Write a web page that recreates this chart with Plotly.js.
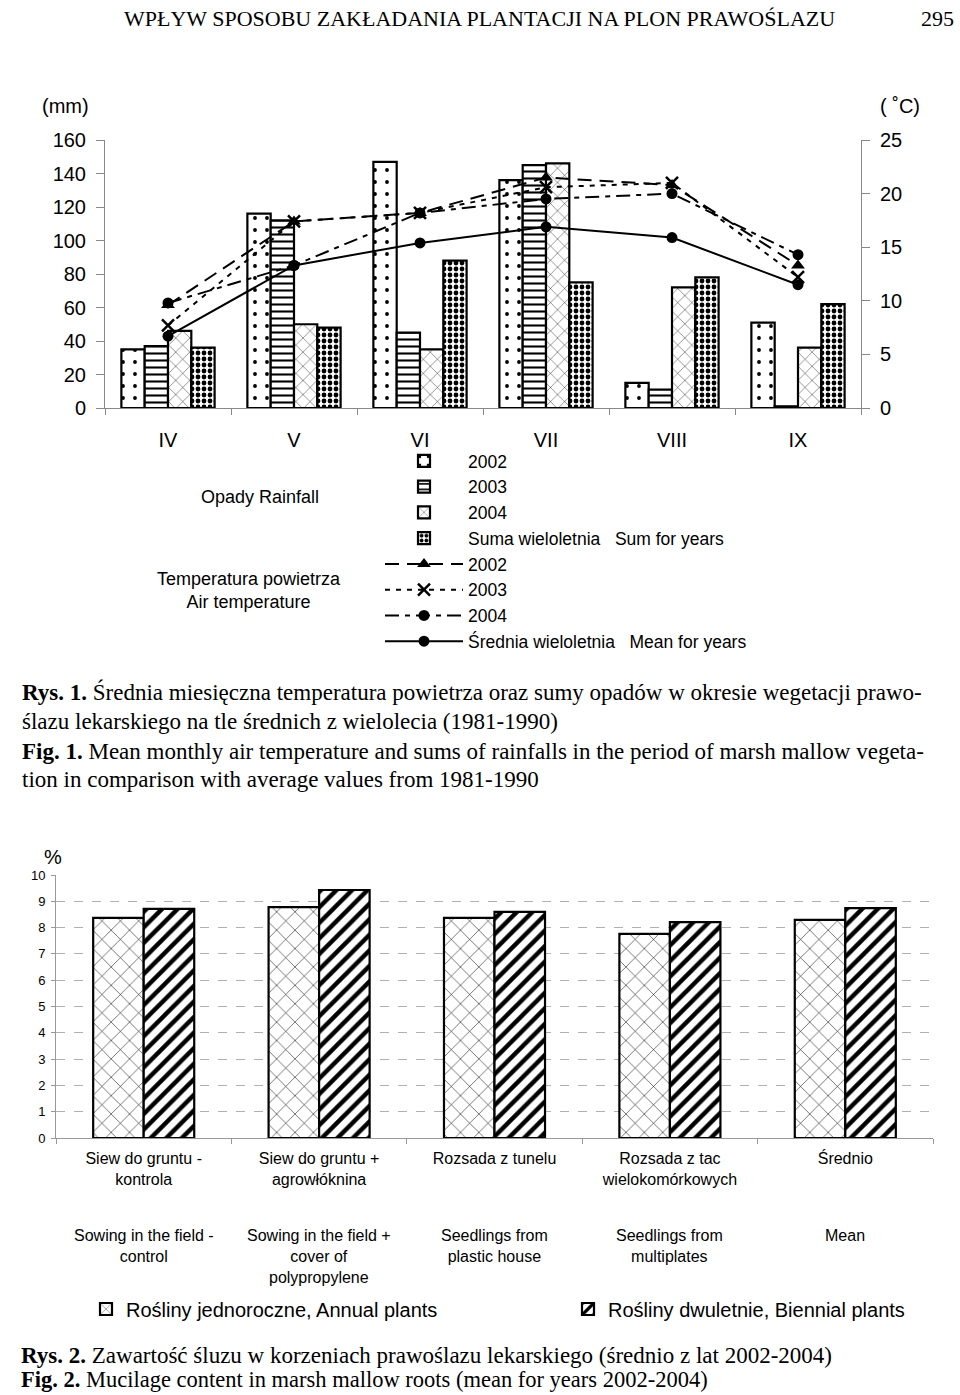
<!DOCTYPE html>
<html><head><meta charset="utf-8">
<script src="https://cdn.plot.ly/plotly-3.0.1.min.js"></script>
<style>body{margin:0;background:#fff}#chart{width:960px;height:1395px}</style>
</head><body><div id="chart"></div>
<script>
// ---- Figure 1 data ----
const months = ['IV', 'V', 'VI', 'VII', 'VIII', 'IX'];
const rain2002 = [35, 116, 147, 136, 15, 51];
const rain2003 = [37, 112, 45, 145, 11, 1];
const rain2004 = [46, 50, 35, 146, 72, 36];
const rainSum = [36, 48, 88, 75, 78, 62];
const temp2002 = [9.6, 17.4, 18.2, 21.5, 20.8, 13.3];
const temp2003 = [7.7, 17.4, 18.2, 20.6, 21.0, 12.2];
const temp2004 = [9.8, 13.3, 18.2, 19.5, 20.0, 14.3];
const tempMean = [6.7, 13.3, 15.4, 16.9, 15.9, 11.5];

// ---- Figure 2 data ----
const methodsPL = ['Siew do gruntu -<br>kontrola', 'Siew do gruntu +<br>agrowłóknina', 'Rozsada z tunelu', 'Rozsada z tac<br>wielokomórkowych', 'Średnio'];
const methodsEN = ['Sowing in the field -<br>control', 'Sowing in the field +<br>cover of<br>polypropylene', 'Seedlings from<br>plastic house', 'Seedlings from<br>multiplates', 'Mean'];
const mucAnnual = [8.37, 8.78, 8.37, 7.76, 8.29];
const mucBiennial = [8.71, 9.43, 8.60, 8.21, 8.74];

const W = 960, H = 1395;
const fx = p => p / W;
const fy = p => 1 - p / H;
const SANS = 'Liberation Sans, Arial, sans-serif';
const SERIF = 'Liberation Serif, Times New Roman, serif';

const barLine = {color: '#000', width: 2.2};
const bw = 0.185;
function rainBar(name, y, off, pattern) {
  return {type: 'bar', x: months, y: y, name: name, xaxis: 'x', yaxis: 'y',
    width: bw, offset: off, marker: {color: '#fff', line: barLine, pattern: pattern}, legend: 'legend'};
}
function tempLine(name, y, dash, marker) {
  return {type: 'scatter', mode: 'lines+markers', x: months, y: y, name: name, xaxis: 'x', yaxis: 'y2',
    line: {color: '#000', width: 2, dash: dash}, marker: marker, legend: 'legend'};
}
const NB = '\u00a0';
const traces = [
  rainBar('2002', rain2002, -2 * bw, {shape: '.', fgcolor: '#000', bgcolor: '#fff', size: 12, solidity: 0.08}),
  rainBar('2003', rain2003, -bw, {shape: '-', fgcolor: '#000', bgcolor: '#fff', size: 7, solidity: 0.3}),
  rainBar('2004', rain2004, 0, {shape: 'x', fgcolor: '#000', bgcolor: '#fff', size: 10, solidity: 0.08}),
  rainBar('Suma wieloletnia' + NB + NB + NB + 'Sum for years', rainSum, bw, {shape: '.', fgcolor: '#000', bgcolor: '#fff', size: 6, solidity: 0.5}),
  tempLine('2002', temp2002, '14px,8px', {symbol: 'triangle-up', size: 12, color: '#000'}),
  tempLine('2003', temp2003, '5px,6px', {symbol: 'x-thin-open', size: 12, color: '#000', line: {color: '#000', width: 2.5}}),
  tempLine('2004', temp2004, '14px,6px,5px,6px', {symbol: 'circle', size: 11, color: '#000'}),
  tempLine('Średnia wieloletnia' + NB + NB + NB + 'Mean for years', tempMean, 'solid', {symbol: 'circle', size: 11, color: '#000'}),
  {type: 'bar', x: methodsPL, y: mucAnnual, name: 'Rośliny jednoroczne, Annual plants', xaxis: 'x3', yaxis: 'y3',
    width: 0.288, offset: -0.288, legend: 'legend2',
    marker: {color: '#fff', line: {color: '#000', width: 2.2}, pattern: {shape: 'x', fgcolor: '#000', bgcolor: '#fff', size: 13, solidity: 0.08}}},
  {type: 'bar', x: methodsPL, y: mucBiennial, name: 'Rośliny dwuletnie, Biennial plants', xaxis: 'x3', yaxis: 'y3',
    width: 0.288, offset: 0, legend: 'legend3',
    marker: {color: '#fff', line: {color: '#000', width: 2.2}, pattern: {shape: '/', fgcolor: '#000', bgcolor: '#fff', size: 11, solidity: 0.4}}}
];

const ann = [];
function txt(text, x, y, size, opts) {
  ann.push(Object.assign({text: text, x: fx(x), y: fy(y), xref: 'paper', yref: 'paper', showarrow: false,
    xanchor: 'left', yanchor: 'middle', font: {family: SANS, size: size, color: '#000'}}, opts || {}));
}
const serif = s => ({font: {family: SERIF, size: s, color: '#000'}});
// header
txt('WPŁYW SPOSOBU ZAKŁADANIA PLANTACJI NA PLON PRAWOŚLAZU', 122, 18, 22, serif(22));
txt('295', 956, 18, 22, Object.assign({xanchor: 'right'}, serif(22)));
// axis units
txt('(mm)', 40, 106, 20);
txt('( ˚C)', 878, 106, 20);
// legend group labels
txt('Opady Rainfall', 260, 497, 18, {xanchor: 'center'});
txt('Temperatura powietrza<br>Air temperature', 249, 590, 18, {xanchor: 'center'});
// caption 1
txt('<b>Rys. 1.</b> Średnia miesięczna temperatura powietrza oraz sumy opadów w okresie wegetacji prawo-', 20, 692, 23, serif(23));
txt('ślazu lekarskiego na tle średnich z wielolecia (1981-1990)', 20, 721, 23, serif(23));
txt('<b>Fig. 1.</b> Mean monthly air temperature and sums of rainfalls in the period of marsh mallow vegeta-', 20, 751, 23, serif(23));
txt('tion in comparison with average values from 1981-1990', 20, 780, 23, serif(23));
// figure 2 unit
txt('%', 42, 857, 20);
// english category labels
methodsEN.forEach((t, i) => {
  ann.push({text: t, x: i, y: fy(1225), xref: 'x3', yref: 'paper', showarrow: false, xanchor: 'center', yanchor: 'top',
    font: {family: SANS, size: 16, color: '#000'}});
});
// caption 2
txt('<b>Rys. 2.</b> Zawartość śluzu w korzeniach prawoślazu lekarskiego (średnio z lat 2002-2004)', 20, 1355, 23, Object.assign({borderpad: 0}, serif(23)));
txt('<b>Fig. 2.</b> Mucilage content in marsh mallow roots (mean for years 2002-2004)', 20, 1379, 22.5, Object.assign({borderpad: 0}, serif(22.5)));

const axisGray = '#888';
const layout = {
  width: W, height: H, margin: {l: 0, r: 0, t: 0, b: 0},
  paper_bgcolor: '#fff', plot_bgcolor: 'rgba(0,0,0,0)',
  font: {family: SANS, color: '#000'},
  barmode: 'overlay',
  xaxis: {domain: [fx(105), fx(861)], anchor: 'y', type: 'category', range: [-0.5, 5.5],
    showline: true, linecolor: axisGray, linewidth: 1, ticks: 'outside', tickson: 'boundaries', ticklen: 6, tickcolor: axisGray,
    tickfont: {size: 20, family: SANS}, ticklabelstandoff: 14, showgrid: false, zeroline: false, fixedrange: true},
  yaxis: {domain: [fy(408), fy(140)], anchor: 'x', range: [0, 160], dtick: 20, showline: true, linecolor: axisGray,
    ticks: 'outside', ticklen: 8, tickcolor: axisGray, tickfont: {size: 20, family: SANS}, ticklabelstandoff: 6,
    showgrid: false, zeroline: false},
  yaxis2: {overlaying: 'y', side: 'right', anchor: 'x', range: [0, 25], dtick: 5, showline: true, linecolor: axisGray,
    ticks: 'outside', ticklen: 8, tickcolor: axisGray, tickfont: {size: 20, family: SANS}, ticklabelstandoff: 6,
    showgrid: false, zeroline: false},
  xaxis3: {domain: [fx(56), fx(933)], anchor: 'y3', type: 'category', range: [-0.5, 4.5],
    showline: true, linecolor: '#999', ticks: 'outside', tickson: 'boundaries', ticklen: 5, tickcolor: '#999',
    tickfont: {size: 16, family: SANS}, ticklabelstandoff: 6, showgrid: false, zeroline: false},
  yaxis3: {domain: [fy(1138), fy(875)], anchor: 'x3', range: [0, 10], dtick: 1, showline: true, linecolor: '#999',
    ticks: 'outside', ticklen: 4, tickcolor: '#999', tickfont: {size: 13, family: SANS}, ticklabelstandoff: 3,
    showgrid: true, gridcolor: '#b0b0b0', griddash: 'dash', gridwidth: 1, zeroline: false},
  legend: {x: fx(380), y: fy(443), xanchor: 'left', yanchor: 'top', bgcolor: 'rgba(0,0,0,0)',
    font: {size: 17.5, family: SANS, color: '#000'}, itemwidth: 78, tracegroupgap: 0, traceorder: 'normal'},
  legend2: {x: fx(86), y: fy(1309), xanchor: 'left', yanchor: 'middle', bgcolor: 'rgba(0,0,0,0)',
    font: {size: 20, family: SANS, color: '#000'}, itemwidth: 30},
  legend3: {x: fx(568), y: fy(1309), xanchor: 'left', yanchor: 'middle', bgcolor: 'rgba(0,0,0,0)',
    font: {size: 20, family: SANS, color: '#000'}, itemwidth: 30},
  annotations: ann,
  showlegend: true
};
Plotly.newPlot('chart', traces, layout, {staticPlot: true});
</script>
</body></html>
